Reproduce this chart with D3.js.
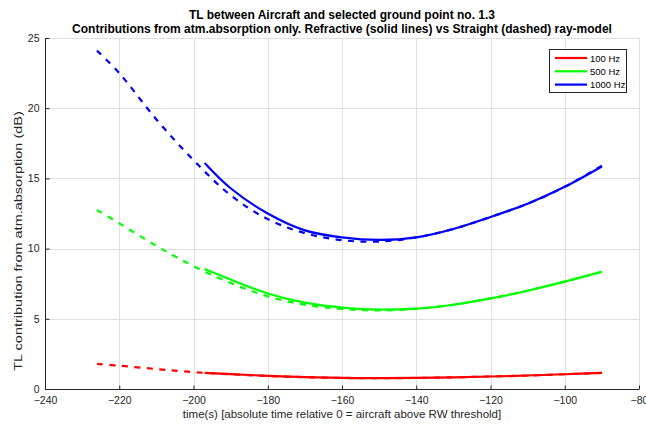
<!DOCTYPE html>
<html>
<head>
<meta charset="utf-8">
<script src="https://cdn.jsdelivr.net/npm/d3@7"></script>
<style>
  html, body { margin: 0; padding: 0; background: #fff; }
  svg { display: block; font-family: "Liberation Sans", Arial, sans-serif; }
</style>
</head>
<body>
<svg id="chart" width="646" height="425"></svg>
<script>
// Time axis (s) for the straight-ray model and the refractive model
const tStraight   = [-226, -220, -210, -200, -190, -180, -170, -160, -150, -140, -130, -120, -110, -100, -90];
const tRefractive = [-197, -190, -180, -170, -160, -150, -140, -130, -120, -110, -100, -90];

// 100 Hz
const straight100   = [1.78, 1.66, 1.42, 1.20, 1.05, 0.93, 0.84, 0.79, 0.77, 0.79, 0.83, 0.89, 0.96, 1.05, 1.15];
const refractive100 = [1.15, 1.06, 0.94, 0.85, 0.79, 0.77, 0.79, 0.83, 0.89, 0.96, 1.05, 1.15];
// 500 Hz
const straight500   = [12.75, 11.8, 10.2, 8.75, 7.55, 6.6, 6.0, 5.7, 5.6, 5.7, 6.0, 6.45, 7.0, 7.65, 8.35];
const refractive500 = [8.55, 7.8, 6.8, 6.15, 5.8, 5.65, 5.72, 6.0, 6.45, 7.0, 7.65, 8.35];
// 1000 Hz
const straight1000   = [24.1, 22.5, 19.2, 16.3, 13.8, 12.1, 11.1, 10.6, 10.5, 10.8, 11.4, 12.25, 13.2, 14.4, 15.9];
const refractive1000 = [16.1, 14.3, 12.5, 11.3, 10.8, 10.62, 10.8, 11.4, 12.25, 13.2, 14.4, 15.85];

const seriesNames  = ["100 Hz", "500 Hz", "1000 Hz"];
const seriesColors = ["#ff0000", "#00ff00", "#0000ff"];

const xTicks = [-240, -220, -200, -180, -160, -140, -120, -100, -80];
const yTicks = [0, 5, 10, 15, 20, 25];

const titleLines = [
  "TL between Aircraft and selected ground point no. 1.3",
  "Contributions from atm.absorption only. Refractive (solid lines) vs Straight (dashed) ray-model"
];
const xLabel = "time(s) [absolute time relative 0 = aircraft above RW threshold]";
const yLabel = "TL contribution from atm.absorption (dB)";

const svg = d3.select("#chart");
const plot = { left: 45, right: 639, top: 38, bottom: 389 };

const x = d3.scaleLinear().domain([-240, -80]).range([plot.left, plot.right]);
const y = d3.scaleLinear().domain([0, 25]).range([plot.bottom, plot.top]);

// Grid
const grid = svg.append("g").attr("stroke", "#e0e0e0").attr("stroke-width", 1);
xTicks.slice(1).forEach(t => grid.append("line")
  .attr("x1", Math.round(x(t)) + 0.5).attr("x2", Math.round(x(t)) + 0.5)
  .attr("y1", plot.top).attr("y2", plot.bottom));
yTicks.slice(1).forEach(t => grid.append("line")
  .attr("x1", plot.left).attr("x2", plot.right)
  .attr("y1", Math.round(y(t)) + 0.5).attr("y2", Math.round(y(t)) + 0.5));

// Axes (ticks pointing inward)
const xAxis = svg.append("g")
  .attr("transform", `translate(0,${plot.bottom + 0.5})`)
  .call(d3.axisBottom(x).tickValues(xTicks).tickSize(-4).tickPadding(8).tickFormat(d3.format("d")));
const yAxis = svg.append("g")
  .attr("transform", `translate(${plot.left + 0.5},0)`)
  .call(d3.axisLeft(y).tickValues(yTicks).tickSize(-4).tickPadding(6).tickFormat(d3.format("d")));

[xAxis, yAxis].forEach(a => {
  a.select(".domain").attr("stroke", "#262626").attr("stroke-width", 1);
  a.selectAll(".tick line").attr("stroke", "#262626");
  a.selectAll(".tick text").attr("fill", "#262626").attr("font-size", 10.5)
    .attr("font-family", "Liberation Sans, Arial, sans-serif");
});
xAxis.select(".domain").attr("d", `M${plot.left},0H${plot.right}`);
yAxis.select(".domain").attr("d", `M0,${plot.bottom}V${plot.top}`);
xAxis.selectAll(".tick text").attr("dy", "0.6em");

// Curves
const line = (ts, vs) => d3.line()
  .x((d, i) => x(ts[i])).y(d => y(d))
  .curve(d3.curveCatmullRom.alpha(0.5))(vs);

const straight   = [straight100, straight500, straight1000];
const refractive = [refractive100, refractive500, refractive1000];

const curves = svg.append("g").attr("fill", "none").attr("stroke-width", 2.2);
straight.forEach((vs, i) => curves.append("path")
  .attr("d", line(tStraight, vs))
  .attr("stroke", seriesColors[i])
  .attr("stroke-dasharray", "6,6.5"));
refractive.forEach((vs, i) => curves.append("path")
  .attr("d", line(tRefractive, vs))
  .attr("stroke", seriesColors[i]));

// Legend
const legend = svg.append("g");
legend.append("rect")
  .attr("x", 549.5).attr("y", 49.5).attr("width", 77).attr("height", 43)
  .attr("fill", "#fff").attr("stroke", "#262626").attr("stroke-width", 1);
seriesNames.forEach((name, i) => {
  const ly = 58 + i * 13.3;
  legend.append("line")
    .attr("x1", 555).attr("x2", 587).attr("y1", ly).attr("y2", ly)
    .attr("stroke", seriesColors[i]).attr("stroke-width", 2.2);
  legend.append("text")
    .attr("x", 590).attr("y", ly + 3.5)
    .attr("font-size", 9.5).attr("fill", "#000").text(name);
});

// Titles
titleLines.forEach((t, i) => svg.append("text")
  .attr("x", (plot.left + plot.right) / 2).attr("y", 18.5 + i * 14.5)
  .attr("text-anchor", "middle").attr("font-weight", "bold")
  .attr("font-size", 12).attr("fill", "#000").text(t));

svg.append("text")
  .attr("x", (plot.left + plot.right) / 2).attr("y", 418)
  .attr("text-anchor", "middle").attr("font-size", 11.5).attr("fill", "#262626")
  .text(xLabel);

// Y label: long along the axis, with narrow glyphs
svg.append("text")
  .attr("transform", `translate(22,241) scale(0.8,1) rotate(-90)`)
  .attr("text-anchor", "middle").attr("font-size", 14.5).attr("fill", "#262626")
  .text(yLabel);
</script>
</body>
</html>
